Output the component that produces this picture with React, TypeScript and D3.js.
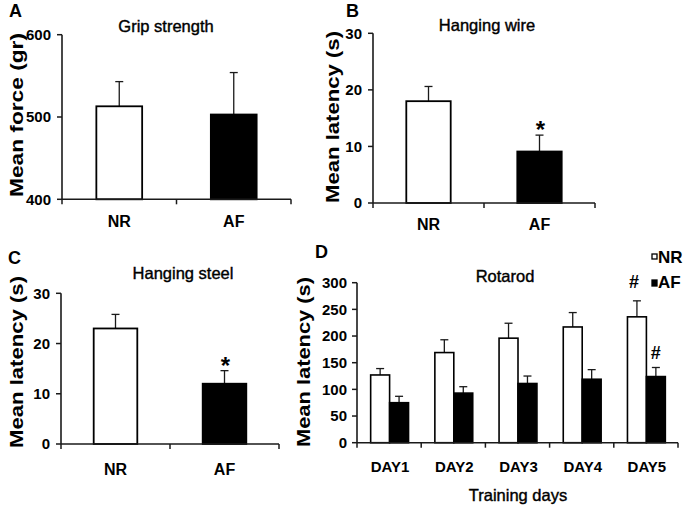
import React from "react";
import * as d3 from "d3";

// ---------- DATA ----------
const groups = ["NR", "AF"];
const gripMeans = [513, 503];
const gripErrs = [30, 51];
const gripTicks = [400, 500, 600];

const wireMeans = [18, 9.1];
const wireErrs = [2.6, 2.9];
const latencyTicks = [0, 10, 20, 30];

const steelMeans = [23, 12];
const steelErrs = [2.8, 2.6];

const days = ["DAY1", "DAY2", "DAY3", "DAY4", "DAY5"];
const rotarodNR = [127, 169, 196, 217, 236];
const rotarodNRErr = [12, 24, 28, 27, 30];
const rotarodAF = [75, 93, 111, 119, 124];
const rotarodAFErr = [12, 12, 14, 18, 17];
const rotarodTicks = [0, 50, 100, 150, 200, 250, 300];

const FONT = "'Liberation Sans', Arial, Helvetica, sans-serif";
const AX = "#1a1a1a";

type PanelProps = {
  x0: number; x1: number; yTop: number; yBot: number;
  domain: [number, number]; ticks: number[];
  means: number[]; errs: number[];
  title: string; titleX: number; titleY: number;
  ylabel: string; ylabelX: number; ylabelY: number; ylabelLen: number;
  letter: string; letterX: number; letterY: number;
  catY: number;
  star?: number;
};

function Panel(p: PanelProps) {
  const y = d3.scaleLinear().domain(p.domain).range([p.yBot, p.yTop]);
  const x = d3.scaleBand<string>().domain(groups).range([p.x0, p.x1]).padding(0);
  const bw = x.bandwidth() * 0.4;
  const boundaries = [p.x0, ...groups.map((g) => (x(g) as number) + x.bandwidth())];
  return (
    <g>
      <text x={p.letterX} y={p.letterY} fontFamily={FONT} fontWeight="bold" fontSize={18}>{p.letter}</text>
      <text x={p.titleX} y={p.titleY} textAnchor="middle" fontFamily={FONT} fontSize={16.5} stroke="#000" strokeWidth={0.4}>{p.title}</text>
      <text transform={`translate(${p.ylabelX},${p.ylabelY}) rotate(-90)`} textAnchor="middle" fontFamily={FONT} fontWeight="bold" fontSize={18} textLength={p.ylabelLen} lengthAdjust="spacingAndGlyphs">{p.ylabel}</text>
      {groups.map((g, i) => {
        const cx = (x(g) as number) + x.bandwidth() / 2;
        const top = y(p.means[i]);
        const et = y(p.means[i] + p.errs[i]);
        return (
          <g key={g}>
            <line x1={cx} x2={cx} y1={top} y2={et} stroke={AX} strokeWidth={1.3} />
            <line x1={cx - 4} x2={cx + 4} y1={et} y2={et} stroke={AX} strokeWidth={1.3} />
            <rect x={cx - bw / 2} y={top} width={bw} height={p.yBot - top} fill={i === 0 ? "#fff" : "#000"} stroke="#000" strokeWidth={1.8} />
            <text x={cx} y={p.catY} textAnchor="middle" fontFamily={FONT} fontWeight="bold" fontSize={16}>{g}</text>
            {p.star === i && (
              <text x={cx + 1} y={et + 3} textAnchor="middle" fontFamily={FONT} fontWeight="bold" fontSize={24}>*</text>
            )}
          </g>
        );
      })}
      <line x1={p.x0} x2={p.x0} y1={p.yTop} y2={p.yBot} stroke={AX} strokeWidth={1.6} />
      <line x1={p.x0} x2={p.x1} y1={p.yBot} y2={p.yBot} stroke={AX} strokeWidth={1.6} />
      {p.ticks.map((t) => (
        <g key={t}>
          <line x1={p.x0 - 5} x2={p.x0} y1={y(t)} y2={y(t)} stroke={AX} strokeWidth={1.5} />
          <text x={p.x0 - 11} y={y(t)} dy="0.36em" textAnchor="end" fontFamily={FONT} fontWeight="bold" fontSize={15}>{t}</text>
        </g>
      ))}
      {boundaries.map((b, i) => (
        <line key={i} x1={b} x2={b} y1={p.yBot} y2={p.yBot + 5} stroke={AX} strokeWidth={1.5} />
      ))}
    </g>
  );
}

function Rotarod() {
  const x0 = 357, x1 = 678, yTop = 282.7, yBot = 442.7;
  const y = d3.scaleLinear().domain([0, 300]).range([yBot, yTop]);
  const x = d3.scaleBand<string>().domain(days).range([x0, x1]).padding(0);
  const bw = x.bandwidth() * 0.295;
  const boundaries = [x0, ...days.map((d) => (x(d) as number) + x.bandwidth())];
  const series = [
    { name: "NR", vals: rotarodNR, errs: rotarodNRErr, fill: "#fff" },
    { name: "AF", vals: rotarodAF, errs: rotarodAFErr, fill: "#000" },
  ];
  return (
    <g>
      <text x={315} y={258} fontFamily={FONT} fontWeight="bold" fontSize={18}>D</text>
      <text x={505} y={282} textAnchor="middle" fontFamily={FONT} fontSize={16.5} stroke="#000" strokeWidth={0.4}>Rotarod</text>
      <text transform={`translate(${310},${362}) rotate(-90)`} textAnchor="middle" fontFamily={FONT} fontWeight="bold" fontSize={18} textLength={170} lengthAdjust="spacingAndGlyphs">Mean latency (s)</text>
      <text x={518} y={501} textAnchor="middle" fontFamily={FONT} fontSize={16.5} stroke="#000" strokeWidth={0.4}>Training days</text>
      {days.map((d, di) => {
        const c = (x(d) as number) + x.bandwidth() / 2;
        return (
          <g key={d}>
            {series.map((s, si) => {
              const left = c - bw + si * bw + 0.5;
              const cx = left + bw / 2;
              const top = y(s.vals[di]);
              const et = y(s.vals[di] + s.errs[di]);
              return (
                <g key={s.name}>
                  <line x1={cx} x2={cx} y1={top} y2={et} stroke={AX} strokeWidth={1.3} />
                  <line x1={cx - 4} x2={cx + 4} y1={et} y2={et} stroke={AX} strokeWidth={1.3} />
                  <rect x={left} y={top} width={bw} height={yBot - top} fill={s.fill} stroke="#000" strokeWidth={1.6} />
                  {di === days.length - 1 && (
                    <text x={cx - (si === 0 ? 3 : 0)} y={et - (si === 0 ? 13 : 9)} textAnchor="middle" fontFamily={FONT} fontWeight="bold" fontSize={18}>#</text>
                  )}
                </g>
              );
            })}
            <text x={c + 1} y={472} textAnchor="middle" fontFamily={FONT} fontWeight="bold" fontSize={15}>{d}</text>
          </g>
        );
      })}
      <line x1={x0} x2={x0} y1={yTop} y2={yBot} stroke={AX} strokeWidth={1.6} />
      <line x1={x0} x2={x1} y1={yBot} y2={yBot} stroke={AX} strokeWidth={1.6} />
      {rotarodTicks.map((t) => (
        <g key={t}>
          <line x1={x0 - 5} x2={x0} y1={y(t)} y2={y(t)} stroke={AX} strokeWidth={1.5} />
          <text x={x0 - 10} y={y(t)} dy="0.36em" textAnchor="end" fontFamily={FONT} fontWeight="bold" fontSize={15}>{t}</text>
        </g>
      ))}
      {boundaries.map((b, i) => (
        <line key={i} x1={b} x2={b} y1={yBot} y2={yBot + 5} stroke={AX} strokeWidth={1.5} />
      ))}
      {/* legend */}
      {series.map((s, i) => (
        <g key={s.name}>
          <rect x={652} y={254 + i * 26} width={5} height={i === 0 ? 5 : 6} fill={s.fill} stroke="#000" strokeWidth={1.3} />
          <text x={658} y={263 + i * 25} fontFamily={FONT} fontWeight="bold" fontSize={17}>{s.name}</text>
        </g>
      ))}
    </g>
  );
}

export default function App() {
  return (
    <svg width={685} height={510} style={{ position: "absolute", left: 0, top: 0, background: "#fff" }}>
      <rect width={685} height={510} fill="#fff" />
      <Panel x0={62} x1={291} yTop={34.7} yBot={199.3} domain={[400, 600]} ticks={gripTicks}
        means={gripMeans} errs={gripErrs} title="Grip strength" titleX={166} titleY={32}
        ylabel="Mean force (gr)" ylabelX={23} ylabelY={115} ylabelLen={164}
        letter="A" letterX={9} letterY={17} catY={227} />
      <Panel x0={373} x1={595} yTop={33.3} yBot={203} domain={[0, 30]} ticks={latencyTicks}
        means={wireMeans} errs={wireErrs} title="Hanging wire" titleX={487} titleY={31}
        ylabel="Mean latency (s)" ylabelX={339} ylabelY={117} ylabelLen={172}
        letter="B" letterX={346} letterY={17} catY={230} star={1} />
      <Panel x0={61} x1={279} yTop={293.3} yBot={444} domain={[0, 30]} ticks={latencyTicks}
        means={steelMeans} errs={steelErrs} title="Hanging steel" titleX={183} titleY={279}
        ylabel="Mean latency (s)" ylabelX={23} ylabelY={362} ylabelLen={172}
        letter="C" letterX={8} letterY={264} catY={475} star={1} />
      <Rotarod />
    </svg>
  );
}
